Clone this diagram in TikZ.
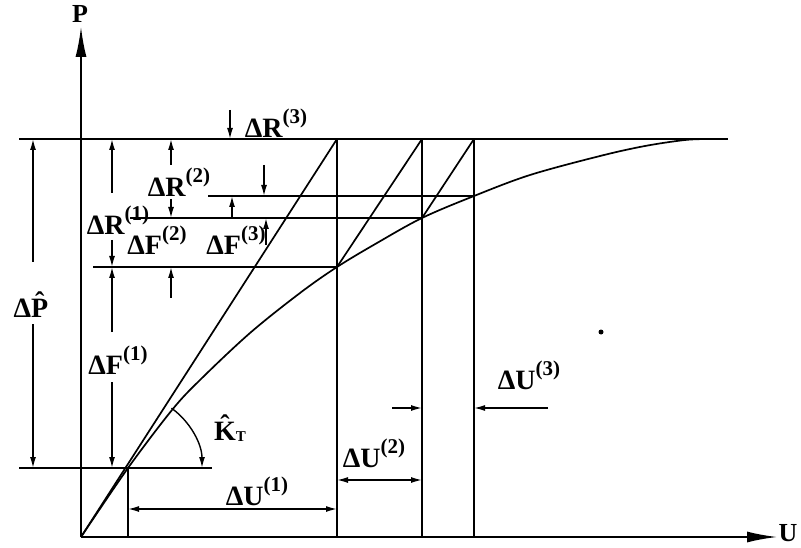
\documentclass[tikz,border=0pt]{standalone}
\usepackage{fontspec}
\setmainfont{Liberation Serif}
\usetikzlibrary{arrows.meta}
\newcommand\spx[1]{\raisebox{0.5em}{\fontsize{21}{21}\selectfont(#1)}}
\newcommand\hatx[1]{\ooalign{#1\cr\hidewidth\raisebox{0.2em}{ˆ}\hidewidth\cr}}
\tikzset{
  ln/.style={line width=1.7pt},
  axisarrow/.style={line width=1.7pt,-{Latex[length=30pt,width=11pt]}},
  dimarrow/.style={line width=1.4pt,-{Latex[length=11pt,width=6pt]}},
  dimboth/.style={line width=1.4pt,{Latex[length=11pt,width=6pt]}-{Latex[length=11pt,width=6pt]}},
  lbl/.style={font=\fontsize{28}{28}\selectfont\bfseries,inner sep=0pt,anchor=base},
  axlbl/.style={font=\fontsize{26}{26}\selectfont\bfseries,inner sep=0pt}
}
\begin{document}
\begin{tikzpicture}[x=1pt,y=-1pt]
\useasboundingbox (0,0) rectangle (801,548);
% key points
\coordinate (O) at (81,537);
\coordinate (Ptop) at (81,27);
\coordinate (Uend) at (777,537);
\coordinate (A0) at (128,468);
\coordinate (A1) at (337,267);
\coordinate (A2) at (422,218);
\coordinate (A3) at (474,196);
\coordinate (T1) at (337,139);
\coordinate (T2) at (422,139);
\coordinate (T3) at (474,139);
\coordinate (B0) at (128,537);
\coordinate (B1) at (337,537);
\coordinate (B2) at (422,537);
\coordinate (B3) at (474,537);
% axes
\draw[axisarrow] (O) -- (Ptop);
\draw[axisarrow] (O) -- (Uend);
\node[axlbl] (Plbl) at (80,14) {P};
\node[axlbl] (Ulbl) at (788,533) {U};
% horizontal reference lines
\coordinate (H0a) at (19,139); \coordinate (H0b) at (728,139);
\draw[ln] (H0a) -- (H0b);
\coordinate (H1a) at (19,468); \coordinate (H1b) at (212,468);
\draw[ln] (H1a) -- (H1b);
\coordinate (H2a) at (93,267);
\draw[ln] (H2a) -- (A1);
\coordinate (H3a) at (130,218);
\draw[ln] (H3a) -- (A2);
\coordinate (H4a) at (208,196);
\draw[ln] (H4a) -- (A3);
% vertical lines
\draw[ln] (A0) -- (B0);
\draw[ln] (T1) -- (B1);
\draw[ln] (T2) -- (B2);
\draw[ln] (T3) -- (B3);
% stiffness lines
\draw[ln] (O) -- (T1);
\draw[ln] (A1) -- (T2);
\draw[ln] (A2) -- (T3);
% load-displacement curve
\draw[ln] plot[smooth,tension=0.55] coordinates {(81,537) (128,468) (172,410) (200,380) (250,333) (300,293) (337,267) (377,243) (422,218) (474,196) (530,175) (600,156) (645,146) (685,140) (710,139)};
% Delta P hat
\draw[dimarrow] (33,262) -- (33,139);
\draw[dimarrow] (33,324) -- (33,468);
\node[lbl] (dP) at (31,317) {Δ\hatx{P}};
% Delta R(1)
\draw[dimarrow] (112,193) -- (112,139);
\draw[dimarrow] (112,240) -- (112,267);
\node[lbl] (dR1) at (118,235) {ΔR\spx{1}};
% Delta F(1)
\draw[dimarrow] (112,332) -- (112,267);
\draw[dimarrow] (112,382) -- (112,468);
\node[lbl] (dF1) at (118,374) {ΔF\spx{1}};
% Delta R(2)
\draw[dimarrow] (171,165) -- (171,139);
\draw[dimarrow] (171,199) -- (171,218);
\node[lbl] (dR2) at (179,197) {ΔR\spx{2}};
% Delta F(2)
\draw[dimarrow] (171,298) -- (171,267);
\node[lbl] (dF2) at (157,255) {ΔF\spx{2}};
% Delta R(3)
\draw[dimarrow] (230,110) -- (230,139);
\draw[dimarrow] (232,218) -- (232,196);
\node[lbl] (dR3) at (276,138) {ΔR\spx{3}};
% Delta F(3)
\draw[dimarrow] (264,165) -- (264,196);
\draw[dimarrow] (266,245) -- (266,218);
\node[lbl] (dF3) at (236,255) {ΔF\spx{3}};
% K_T angle
\draw[dimarrow] (A0) ++(-54:74) arc[start angle=-54,end angle=0,radius=74];
\node[lbl] (KT) at (230,440) {\hatx{K}\raisebox{-0.05em}{\fontsize{15}{15}\selectfont T}};
% Delta U(1)
\coordinate (U1a) at (128,509); \coordinate (U1b) at (337,509);
\draw[dimboth] (U1a) -- (U1b);
\node[lbl] (dU1) at (257,505) {ΔU\spx{1}};
% Delta U(2)
\coordinate (U2a) at (337,480); \coordinate (U2b) at (422,480);
\draw[dimboth] (U2a) -- (U2b);
\node[lbl] (dU2) at (374,467) {ΔU\spx{2}};
% Delta U(3)
\draw[dimarrow] (392,408) -- (422,408);
\draw[dimarrow] (548,408) -- (474,408);
\node[lbl] (dU3) at (529,389) {ΔU\spx{3}};
% stray dot
\fill (601,332) circle[radius=2.5];
\end{tikzpicture}
\end{document}
